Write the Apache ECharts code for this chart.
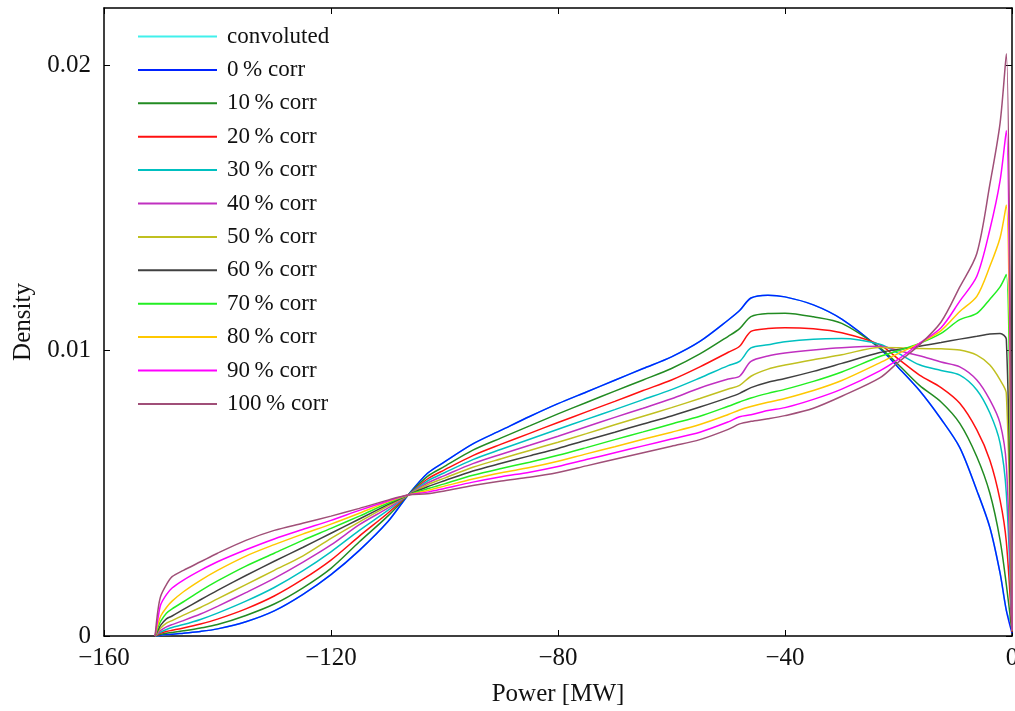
<!DOCTYPE html>
<html>
<head>
<meta charset="utf-8">
<script src="https://cdn.jsdelivr.net/npm/echarts@6/dist/echarts.min.js"></script>
<style>html,body{margin:0;padding:0;background:#fff}#c{width:1015px;height:711px}</style>
</head>
<body>
<div id="c"></div>
<script>
const power = [-151, -150.5, -150, -149, -148, -146, -143, -140, -135, -130, -125, -120, -115, -110, -106.4, -103, -100, -95, -90, -85, -80, -75, -70, -65, -60, -55, -50, -48, -46, -43, -40, -35, -30, -23.3, -20, -16.3, -12.5, -9.2, -6.2, -3.9, -2.1, -1, 0];

const convoluted = [0, .00001, .00003, .00005, .00006, .0001, .00016, .00025, .0005, .00088, .00145, .00215, .0030, .0040, .00494, .0057, .0061, .00673, .00721, .00769, .00814, .00855, .00896, .00937, .00978, .01032, .01107, .0114, .01184, .01194, .01188, .0116, .0111, .01007, .0094, .0086, .0076, .0066, .0051, .0038, .0022, .0009, .0004];
const corr0 = [0, .00001, .00003, .00005, .00006, .0001, .00016, .00025, .0005, .00088, .00145, .00215, .0030, .0040, .00494, .0057, .0061, .00673, .00721, .00769, .00814, .00855, .00896, .00937, .00978, .01032, .01107, .0114, .01184, .01194, .01188, .0116, .0111, .01007, .0094, .0086, .0076, .0066, .0051, .0038, .0022, .0009, .0001];
const corr10 = [0, .00003, .00006, .0001, .00012, .00018, .00028, .0004, .00072, .00112, .00168, .00237, .0033, .0042, .00494, .00559, .00594, .00651, .00694, .00736, .00778, .00818, .00858, .00897, .00937, .00988, .0105, .01077, .01119, .0113, .01131, .01118, .01095, .0101, .0095, .00878, .0082, .00745, .00628, .005, .00336, .0018, .00015];
const corr20 = [0, .00005, .0001, .00016, .0002, .00028, .00042, .00059, .00095, .0014, .00198, .00266, .0035, .0043, .00494, .0055, .00582, .00632, .00672, .0071, .00748, .00785, .00822, .0086, .00897, .00943, .00994, .01015, .01067, .01077, .0108, .01076, .01062, .0102, .0097, .00914, .0087, .00815, .00722, .00616, .00476, .0033, .00015];
const corr30 = [0, .00008, .00014, .00023, .0003, .0004, .00058, .0008, .00122, .0017, .00228, .00295, .0037, .0044, .00494, .00543, .00572, .00618, .00654, .00689, .00724, .00759, .00793, .00828, .00863, .00904, .00947, .00962, .01009, .0102, .01031, .0104, .01042, .01022, .0099, .0095, .0093, .00914, .00862, .00781, .00676, .005, .0002];
const corr40 = [0, .0001, .0002, .00032, .0004, .00054, .00077, .00104, .00152, .00202, .00258, .00319, .0039, .00448, .00494, .00536, .00562, .00604, .00637, .00668, .007, .00733, .00766, .00798, .00831, .00869, .009, .0091, .00962, .00981, .00991, .01002, .0101, .01015, .0100, .00982, .0096, .00943, .00897, .00827, .00745, .006, .0002];
const corr50 = [0, .00015, .00028, .00045, .00054, .00073, .001, .0013, .0018, .0023, .0028, .00342, .0040, .00455, .00494, .0053, .00553, .00591, .00621, .0065, .00679, .00709, .0074, .0077, .008, .00832, .00865, .00878, .0091, .00935, .00949, .00968, .00985, .01011, .0101, .01007, .01006, .01002, .00984, .00949, .00897, .0085, .0002];
const corr60 = [0, .0002, .00038, .0006, .0007, .00093, .00127, .0016, .00212, .00262, .0031, .0036, .0041, .0046, .00494, .00523, .00544, .00578, .00605, .00631, .00657, .00686, .00714, .00743, .00771, .00802, .00835, .0085, .0087, .00889, .00902, .00927, .00955, .00993, .01004, .01015, .01028, .0104, .0105, .01058, .0106, .0104, .0002];
const corr70 = [0, .0003, .00052, .0008, .00095, .0012, .00158, .00193, .00245, .0029, .00335, .00377, .0042, .00465, .00494, .00516, .00533, .00563, .00587, .00609, .00633, .0066, .00688, .00715, .00743, .0077, .00805, .0082, .00834, .0085, .00864, .00892, .00925, .00979, .0100, .01025, .0106, .01108, .0113, .0118, .01223, .01266, .0002];
const corr80 = [0, .0004, .0007, .001, .00122, .00155, .00195, .0023, .0028, .0032, .00357, .00392, .0043, .0047, .00494, .0051, .00525, .0055, .00572, .0059, .00612, .00638, .00663, .00689, .00714, .00741, .00776, .00792, .00804, .00819, .00832, .0086, .00895, .00957, .0099, .01025, .0107, .01137, .0119, .01295, .01395, .0151, .0002];
const corr90 = [0, .0006, .0011, .00145, .00168, .00196, .0023, .0026, .00302, .0034, .00373, .00405, .0044, .00473, .00494, .00504, .00517, .00539, .00558, .00574, .00594, .00618, .00642, .00666, .0069, .00714, .0075, .00768, .00775, .0079, .008, .00829, .00865, .00929, .0097, .01025, .0108, .01173, .0126, .01424, .01595, .01771, .0002];
const corr100 = [0, .0009, .0014, .0018, .00208, .0023, .0026, .0029, .00335, .0037, .00395, .0042, .00447, .00476, .00494, .00498, .00508, .00527, .00543, .00556, .00573, .00596, .00619, .00642, .00665, .00688, .00724, .00743, .00752, .00761, .00772, .00798, .0084, .00904, .0096, .0102, .0110, .01223, .0134, .01582, .01797, .0204, .0002];

const seriesNames = ['convoluted', '0\u2009% corr', '10\u2009% corr', '20\u2009% corr', '30\u2009% corr', '40\u2009% corr', '50\u2009% corr', '60\u2009% corr', '70\u2009% corr', '80\u2009% corr', '90\u2009% corr', '100\u2009% corr'];
const seriesValues = [convoluted, corr0, corr10, corr20, corr30, corr40, corr50, corr60, corr70, corr80, corr90, corr100];
const seriesColors = ['#40f0ec', '#0022ff', '#228b22', '#ff1010', '#00c0c0', '#c030c0', '#c0c020', '#404040', '#22ee22', '#ffc800', '#ff00ff', '#a04f78'];

const xTicks = {min: -160, max: 0, interval: 40};
const yTicks = {min: 0, max: 0.022, interval: 0.01};

const FONT = 'Liberation Serif';
const chart = echarts.init(document.getElementById('c'), null, {renderer: 'canvas'});

const series = seriesNames.map((name, i) => ({
  name: name,
  type: 'line',
  data: power.map((x, j) => [x, seriesValues[i][j]]),
  showSymbol: false,
  symbol: 'none',
  smooth: 0.3,
  lineStyle: {color: seriesColors[i], width: 1.5},
  itemStyle: {color: seriesColors[i]},
  emphasis: {disabled: true},
  animation: false,
  xAxisIndex: 0,
  yAxisIndex: 0
}));

const axisLineStyle = {show: true, onZero: false, lineStyle: {color: '#000', width: 1.5}};
const tickStyle = {show: true, inside: true, length: 6, lineStyle: {color: '#000', width: 1}};

chart.setOption({
  backgroundColor: '#fff',
  animation: false,
  grid: {left: 104, right: 3, top: 8, bottom: 75, containLabel: false, outerBoundsMode: 'none'},
  legend: {
    data: seriesNames,
    orient: 'vertical',
    left: 138,
    top: 25,
    padding: 0,
    icon: 'rect',
    itemWidth: 79,
    itemHeight: 2,
    itemGap: 10.4,
    textStyle: {fontFamily: FONT, fontSize: 23, color: '#111', lineHeight: 23, padding: [0, 0, 0, 5]},
    selectedMode: false
  },
  xAxis: [
    {type: 'value', position: 'bottom', min: xTicks.min, max: xTicks.max, interval: xTicks.interval,
     name: 'Power [MW]', nameLocation: 'middle', nameGap: 46,
     nameTextStyle: {fontFamily: FONT, fontSize: 25, color: '#111'},
     axisLine: axisLineStyle, axisTick: tickStyle, splitLine: {show: false},
     axisLabel: {fontFamily: FONT, fontSize: 25, color: '#111', margin: 10,
       formatter: v => (v < 0 ? '\u2212' + Math.abs(v) : String(v))}},
    {type: 'value', position: 'top', min: xTicks.min, max: xTicks.max, interval: xTicks.interval,
     axisLine: axisLineStyle, axisTick: tickStyle, splitLine: {show: false}, axisLabel: {show: false}}
  ],
  yAxis: [
    {type: 'value', position: 'left', min: yTicks.min, max: yTicks.max, interval: yTicks.interval,
     name: 'Density', nameLocation: 'middle', nameGap: 68,
     nameTextStyle: {fontFamily: FONT, fontSize: 25, color: '#111'},
     axisLine: axisLineStyle, axisTick: tickStyle, splitLine: {show: false},
     axisLabel: {fontFamily: FONT, fontSize: 25, color: '#111', margin: 13, showMaxLabel: false,
       formatter: v => (v === 0 ? '0' : v.toFixed(2))}},
    {type: 'value', position: 'right', min: yTicks.min, max: yTicks.max, interval: yTicks.interval,
     axisLine: axisLineStyle, axisTick: tickStyle, splitLine: {show: false}, axisLabel: {show: false}}
  ],
  series: series
});
</script>
</body>
</html>
